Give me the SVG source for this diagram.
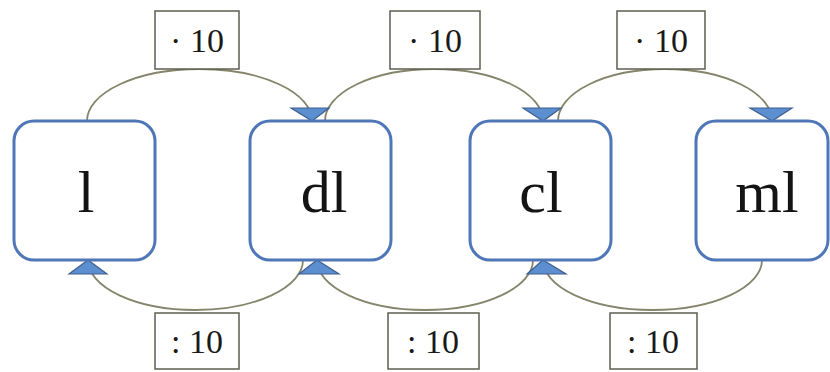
<svg xmlns="http://www.w3.org/2000/svg" width="830" height="372" viewBox="0 0 830 372">
<style>
.node{fill:#ffffff;stroke:#4f77b8;stroke-width:3}
.nt{font-family:"Liberation Serif","Times New Roman",serif;font-size:60px;fill:#141414;text-anchor:middle}
.lb{fill:#ffffff;stroke:#5e5e50;stroke-width:1.5}
.lt{font-family:"Liberation Serif","Times New Roman",serif;font-size:34px;fill:#1a1a1a;text-anchor:middle}
.arc{fill:none;stroke:#85856c;stroke-width:1.8}
.ah{fill:#5b8fd0;stroke:#3f5f8f;stroke-width:1.2}
</style>
<rect width="830" height="372" fill="#ffffff"/>
<g id="connectors">
<path class="arc" d="M87,121 A112.5 52 0 0 1 312,121"/>
<path class="arc" d="M325,121 A109 52 0 0 1 543,121"/>
<path class="arc" d="M558,121 A107 52 0 0 1 772,121"/>
<path class="arc" d="M303,260 A107.5 50 0 0 1 88,260"/>
<path class="arc" d="M533,260 A108 50 0 0 1 317,260"/>
<path class="arc" d="M762,260 A109.5 50 0 0 1 543,260"/>
<polygon class="ah" points="312,121 291,108 329,108"/>
<polygon class="ah" points="543,121 523,108 561,108"/>
<polygon class="ah" points="772,121 750,108 792,108"/>
<polygon class="ah" points="88,260 69,274 107,274"/>
<polygon class="ah" points="317,260 299,274 339,274"/>
<polygon class="ah" points="543,260 527,274 566,274"/>
</g>
<g id="label-t1"><rect class="lb" x="155" y="11" width="84" height="58"/><text class="lt" x="197" y="52">· 10</text></g>
<g id="label-t2"><rect class="lb" x="390" y="11" width="90" height="58"/><text class="lt" x="435" y="52">· 10</text></g>
<g id="label-t3"><rect class="lb" x="617" y="11" width="88" height="58"/><text class="lt" x="661" y="52">· 10</text></g>
<g id="label-b1"><rect class="lb" x="155" y="313" width="84" height="56"/><text class="lt" x="197" y="353">: 10</text></g>
<g id="label-b2"><rect class="lb" x="388" y="313" width="91" height="56"/><text class="lt" x="433" y="353">: 10</text></g>
<g id="label-b3"><rect class="lb" x="610" y="313" width="87" height="56"/><text class="lt" x="653" y="353">: 10</text></g>
<g id="node-l"><rect class="node" x="14" y="121" width="141" height="139" rx="20"/><text class="nt" x="86" y="212">l</text></g>
<g id="node-dl"><rect class="node" x="250" y="121" width="141" height="139" rx="20"/><text class="nt" x="324" y="212">dl</text></g>
<g id="node-cl"><rect class="node" x="470" y="121" width="141" height="139" rx="20"/><text class="nt" x="541" y="212">cl</text></g>
<g id="node-ml"><rect class="node" x="696" y="121" width="132" height="139" rx="20"/><text class="nt" x="767" y="212">ml</text></g>
</svg>
